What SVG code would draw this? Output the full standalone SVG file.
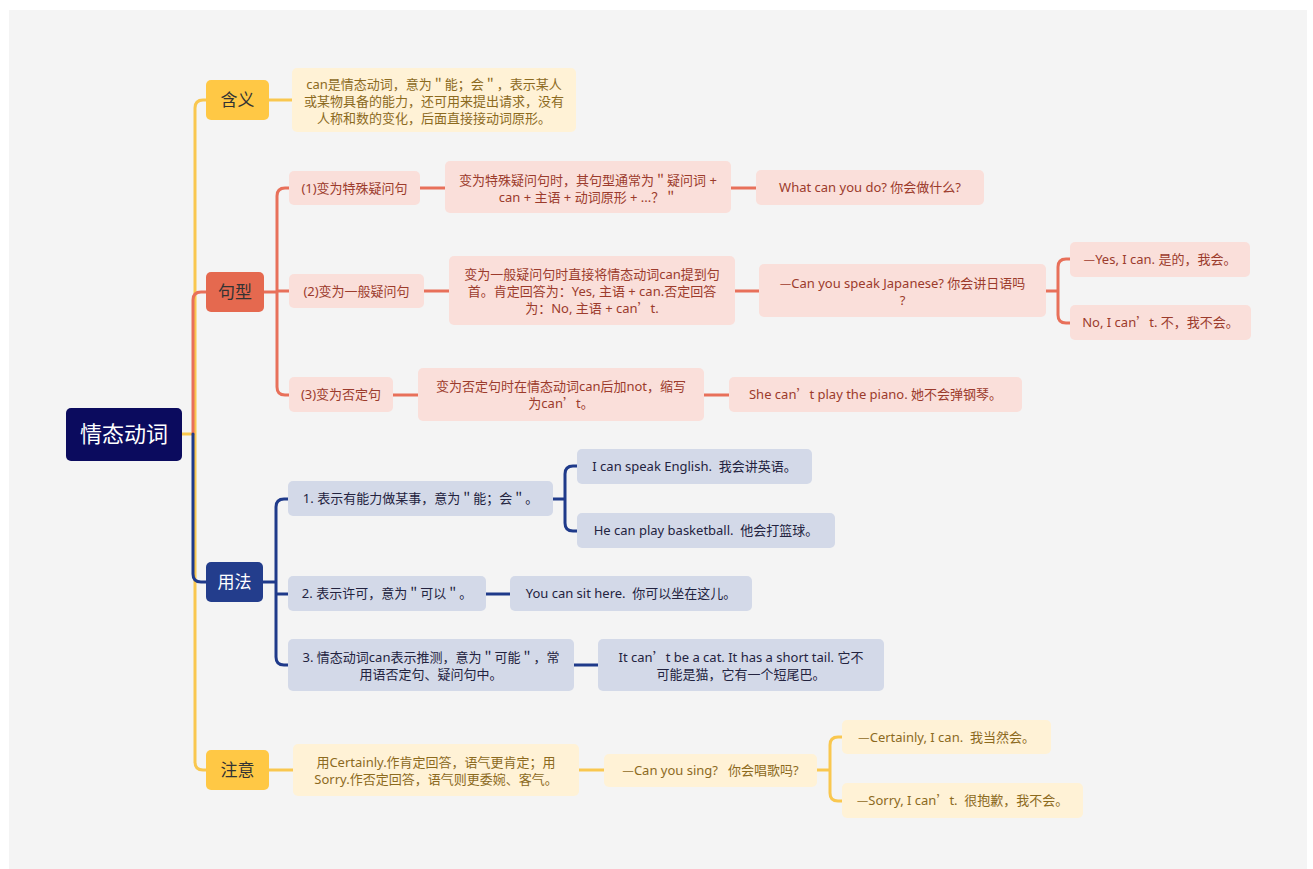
<svg xmlns="http://www.w3.org/2000/svg" width="1313" height="869" viewBox="0 0 1313 869">
<style>
text{font-family:"Noto Sans","Noto Sans CJK SC",sans-serif;font-size:13px;text-anchor:middle}
.cj{font-family:"Noto Sans CJK SC",sans-serif}
.main{font-size:17px;fill:#333;font-family:"Noto Sans CJK SC",sans-serif}
.root{font-size:22px;fill:#fff;font-family:"Noto Sans CJK SC",sans-serif}
.y1{fill:#FFC845}
.y2{fill:#FFF2D6}
.yt{fill:#8C6A1E}
.r1{fill:#E5694F}
.r2{fill:#FADFDA}
.rt{fill:#9C3B2C}
.b1{fill:#233D8C}
.b2{fill:#D3D9E8}
.bt{fill:#23233F}
.ly{fill:none;stroke:#F9C74F;stroke-width:3;stroke-linecap:round;stroke-linejoin:round}
.lr{fill:none;stroke:#E8705A;stroke-width:3;stroke-linecap:round;stroke-linejoin:round}
.lb{fill:none;stroke:#1F3A8A;stroke-width:3;stroke-linecap:round;stroke-linejoin:round}
</style>
<rect x="0" y="0" width="1313" height="869" fill="#ffffff"/>
<rect x="9" y="10" width="1298" height="859" fill="#F4F4F4"/>

<g id="connectors">
  <path class="ly" d="M182 434 H195 M195 434 V108 Q195 100 203 100 H206 M195 434 V762 Q195 770 203 770 H206"/>
  <path class="ly" d="M269 100 H292"/>
  <path class="lr" d="M193 434 V300 Q193 292 201 292 H206"/>
  <path class="lb" d="M193 434 V574 Q193 582 201 582 H206"/>
  <path class="lr" d="M264 292 H277 M289 188 H285 Q277 188 277 196 V387 Q277 395 285 395 H289 M277 291 H289"/>
  <path class="lr" d="M420 188 H445 M731 188 H756 M424 291 H449 M735 291 H759 M393 395 H418 M704 395 H729"/>
  <path class="lr" d="M1046 291 H1058 M1070 259 H1066 Q1058 259 1058 267 V315 Q1058 323 1066 323 H1070"/>
  <path class="lb" d="M263 582 H276 M288 499 H284 Q276 499 276 507 V657 Q276 665 284 665 H288 M276 594 H288"/>
  <path class="lb" d="M553 499 H565 M577 466 H573 Q565 466 565 474 V523 Q565 531 573 531 H577"/>
  <path class="lb" d="M486 594 H510 M574 665 H598"/>
  <path class="ly" d="M269 770 H293 M579 770 H604 M817 770 H830 M842 737 H838 Q830 737 830 745 V793 Q830 801 838 801 H842"/>
</g>

<g id="root">
  <rect x="66" y="408" width="116" height="53" rx="5" fill="#0B0B5E"/>
  <text class="root" x="124" y="442">情态动词</text>
</g>

<g id="hanyi">
  <rect class="y1" x="206" y="80" width="63" height="40" rx="5"/>
  <text class="main" x="237.5" y="106">含义</text>
</g>
<g id="hanyi-desc">
  <rect class="y2" x="292" y="68" width="284" height="64" rx="5"/>
  <text class="yt" x="434" y="88.5">can是情态动词，意为＂能；会＂，表示某人</text>
  <text class="yt" x="434" y="105.5">或某物具备的能力，还可用来提出请求，没有</text>
  <text class="yt" x="434" y="122.5">人称和数的变化，后面直接接动词原形。</text>
</g>

<g id="juxing">
  <rect class="r1" x="206" y="272" width="58" height="40" rx="5"/>
  <text class="main" x="235" y="298">句型</text>
</g>
<g id="jx1">
  <rect class="r2" x="289" y="171" width="131" height="34" rx="5"/>
  <text class="rt" x="354.5" y="192.5">(1)变为特殊疑问句</text>
</g>
<g id="jx1-desc">
  <rect class="r2" x="445" y="161" width="286" height="52" rx="5"/>
  <text class="rt" x="588" y="184.5">变为特殊疑问句时，其句型通常为＂疑问词 +</text>
  <text class="rt" x="588" y="201.5">can + 主语 + 动词原形 + ...？＂</text>
</g>
<g id="jx1-ex">
  <rect class="r2" x="756" y="170" width="228" height="35" rx="5"/>
  <text class="rt" x="870" y="192">What can you do? 你会做什么?</text>
</g>
<g id="jx2">
  <rect class="r2" x="289" y="274" width="135" height="34" rx="5"/>
  <text class="rt" x="356.5" y="295.5">(2)变为一般疑问句</text>
</g>
<g id="jx2-desc">
  <rect class="r2" x="449" y="256" width="286" height="69" rx="5"/>
  <text class="rt" x="592" y="278.5">变为一般疑问句时直接将情态动词can提到句</text>
  <text class="rt" x="592" y="295.5">首。肯定回答为：Yes, 主语 + can.否定回答</text>
  <text class="rt" x="592" y="312.5">为：No, 主语 + can<tspan class="cj">’</tspan>t.</text>
</g>
<g id="jx2-ex">
  <rect class="r2" x="759" y="264" width="287" height="53" rx="5"/>
  <text class="rt" x="902.5" y="287.5"><tspan class="cj">—</tspan>Can you speak Japanese? 你会讲日语吗</text>
  <text class="rt" x="902.5" y="304.5">?</text>
</g>
<g id="jx2-yes">
  <rect class="r2" x="1070" y="242" width="180" height="35" rx="5"/>
  <text class="rt" x="1160" y="264"><tspan class="cj">—</tspan>Yes, I can. 是的，我会。</text>
</g>
<g id="jx2-no">
  <rect class="r2" x="1070" y="305" width="181" height="35" rx="5"/>
  <text class="rt" x="1160.5" y="327">No, I can<tspan class="cj">’</tspan>t. 不，我不会。</text>
</g>
<g id="jx3">
  <rect class="r2" x="289" y="377" width="104" height="35" rx="5"/>
  <text class="rt" x="341" y="399">(3)变为否定句</text>
</g>
<g id="jx3-desc">
  <rect class="r2" x="418" y="368" width="286" height="53" rx="5"/>
  <text class="rt" x="561" y="390.5">变为否定句时在情态动词can后加not，缩写</text>
  <text class="rt" x="561" y="407.5">为can<tspan class="cj">’</tspan>t。</text>
</g>
<g id="jx3-ex">
  <rect class="r2" x="729" y="377" width="293" height="35" rx="5"/>
  <text class="rt" x="875.5" y="399">She can<tspan class="cj">’</tspan>t play the piano. 她不会弹钢琴。</text>
</g>

<g id="yongfa">
  <rect class="b1" x="206" y="562" width="57" height="40" rx="5"/>
  <text class="main" x="234.5" y="588" style="fill:#fff">用法</text>
</g>
<g id="yf1">
  <rect class="b2" x="288" y="481" width="265" height="35" rx="5"/>
  <text class="bt" x="420.5" y="503">1. 表示有能力做某事，意为＂能；会＂。</text>
</g>
<g id="yf1-ex1">
  <rect class="b2" x="577" y="449" width="235" height="35" rx="5"/>
  <text class="bt" x="694.5" y="471">I can speak English.&#160; 我会讲英语。</text>
</g>
<g id="yf1-ex2">
  <rect class="b2" x="577" y="513" width="258" height="35" rx="5"/>
  <text class="bt" x="706" y="535">He can play basketball.&#160; 他会打篮球。</text>
</g>
<g id="yf2">
  <rect class="b2" x="288" y="576" width="198" height="35" rx="5"/>
  <text class="bt" x="387" y="598">2. 表示许可，意为＂可以＂。</text>
</g>
<g id="yf2-ex">
  <rect class="b2" x="510" y="576" width="242" height="35" rx="5"/>
  <text class="bt" x="631" y="598">You can sit here.&#160; 你可以坐在这儿。</text>
</g>
<g id="yf3">
  <rect class="b2" x="288" y="639" width="286" height="52" rx="5"/>
  <text class="bt" x="431" y="661.5">3. 情态动词can表示推测，意为＂可能＂，常</text>
  <text class="bt" x="431" y="678.5">用语否定句、疑问句中。</text>
</g>
<g id="yf3-ex">
  <rect class="b2" x="598" y="639" width="286" height="52" rx="5"/>
  <text class="bt" x="741" y="661.5">It can<tspan class="cj">’</tspan>t be a cat. It has a short tail. 它不</text>
  <text class="bt" x="741" y="678.5">可能是猫，它有一个短尾巴。</text>
</g>

<g id="zhuyi">
  <rect class="y1" x="206" y="750" width="63" height="40" rx="5"/>
  <text class="main" x="237.5" y="776">注意</text>
</g>
<g id="zy-desc">
  <rect class="y2" x="293" y="744" width="286" height="52" rx="5"/>
  <text class="yt" x="436" y="766.5">用Certainly.作肯定回答，语气更肯定；用</text>
  <text class="yt" x="436" y="783.5">Sorry.作否定回答，语气则更委婉、客气。</text>
</g>
<g id="zy-q">
  <rect class="y2" x="604" y="754" width="213" height="33" rx="5"/>
  <text class="yt" x="710.5" y="775"><tspan class="cj">—</tspan>Can you sing?&#160;&#160; 你会唱歌吗?</text>
</g>
<g id="zy-yes">
  <rect class="y2" x="842" y="720" width="209" height="34" rx="5"/>
  <text class="yt" x="946.5" y="741.5"><tspan class="cj">—</tspan>Certainly, I can.&#160; 我当然会。</text>
</g>
<g id="zy-no">
  <rect class="y2" x="842" y="783" width="241" height="35" rx="5"/>
  <text class="yt" x="962.5" y="805"><tspan class="cj">—</tspan>Sorry, I can<tspan class="cj">’</tspan>t.&#160; 很抱歉，我不会。</text>
</g>
</svg>
